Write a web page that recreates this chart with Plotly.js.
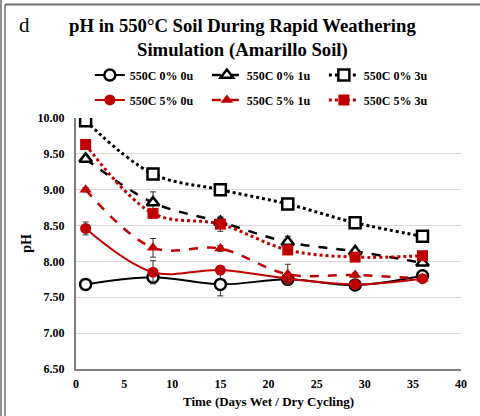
<!DOCTYPE html>
<html><head><meta charset="utf-8">
<script src="https://cdn.plot.ly/plotly-3.0.1.min.js"></script>
<style>html,body{margin:0;padding:0;background:#fff}#chart{width:480px;height:416px}</style>
</head><body><div id="chart"></div>
<script>
const days = [1, 8, 15, 22, 29, 36];
const s0_0u = [7.68, 7.78, 7.68, 7.75, 7.67, 7.80];
const e0_0u = [0.03, 0.09, 0.16, 0.04, 0.03, 0.04];
const s0_1u = [9.43, 8.82, 8.55, 8.27, 8.14, 7.98];
const e0_1u = [0.03, 0.15, 0.06, 0.08, 0.03, 0.04];
const s0_3u = [9.96, 9.22, 9.00, 8.80, 8.54, 8.35];
const e0_3u = [0.03, 0.05, 0.04, 0.06, 0.05, 0.04];
const s5_0u = [8.46, 7.85, 7.88, 7.76, 7.68, 7.76];
const e5_0u = [0.09, 0.16, 0.06, 0.03, 0.03, 0.03];
const s5_1u = [9.00, 8.19, 8.18, 7.82, 7.81, 7.76];
const e5_1u = [0.03, 0.13, 0.04, 0.14, 0.03, 0.03];
const s5_3u = [9.63, 8.67, 8.52, 8.16, 8.06, 8.08];
const e5_3u = [0.03, 0.05, 0.10, 0.04, 0.04, 0.04];
const names = ['550C 0% 0u','550C 0% 1u','550C 0% 3u','550C 5% 0u','550C 5% 1u','550C 5% 3u'];
const yTicks = [6.5, 7.0, 7.5, 8.0, 8.5, 9.0, 9.5, 10.0];
const yTickText = ['6.50','7.00','7.50','8.00','8.50','9.00','9.50','10.00'];

const RED = '#C00000', BLK = '#000000';
const serif = 'Liberation Serif, Times New Roman, serif';
function tr(y, e, name, color, dash, width, symbol, fill, legend) {
  return {
    x: days, y: y, name: name, type: 'scatter', mode: 'lines+markers',
    line: {color: color, dash: dash, width: width, shape: 'spline', smoothing: 1},
    marker: {symbol: symbol, size: 11, color: fill, line: {color: color, width: fill === '#ffffff' ? 2.5 : 0}},
    error_y: {type: 'data', array: e, visible: true, color: '#333333', thickness: 1, width: 3},
    legend: legend
  };
}
const data = [
  tr(s0_0u, e0_0u, names[0], BLK, 'solid', 2, 'circle', '#ffffff', 'legend'),
  tr(s0_1u, e0_1u, names[1], BLK, 'dash', 2.5, 'triangle-up', '#ffffff', 'legend'),
  tr(s0_3u, e0_3u, names[2], BLK, 'dot', 3, 'square', '#ffffff', 'legend'),
  tr(s5_0u, e5_0u, names[3], RED, 'solid', 2, 'circle', RED, 'legend2'),
  tr(s5_1u, e5_1u, names[4], RED, 'dash', 2.5, 'triangle-up', RED, 'legend2'),
  tr(s5_3u, e5_3u, names[5], RED, 'dot', 3, 'square', RED, 'legend2')
];
const legCommon = {orientation: 'h', entrywidth: 72, entrywidthmode: 'pixels', xanchor: 'left', yanchor: 'middle',
  font: {family: serif, size: 12, color: '#000', weight: 'bold'}, bgcolor: 'rgba(0,0,0,0)', traceorder: 'normal'};
const layout = {
  width: 480, height: 416,
  margin: {l: 76, r: 19, t: 118, b: 47},
  paper_bgcolor: '#ffffff', plot_bgcolor: '#ffffff',
  font: {family: serif, color: '#000'},
  title: {text: '<b>pH in 550°C Soil During Rapid Weathering<br>Simulation (Amarillo Soil)</b>',
    font: {family: serif, size: 18.7, color: '#000'}, x: 0.505, xref: 'container', xanchor: 'center', yref: 'container', y: 0.924, yanchor: 'middle'},
  showlegend: true,
  legend: Object.assign({x: 0.036, y: 1.171}, legCommon),
  legend2: Object.assign({x: 0.036, y: 1.072}, legCommon),
  xaxis: {range: [0, 40], dtick: 5, tick0: 0, showgrid: false, zeroline: false,
    showline: true, linecolor: '#7f7f7f', linewidth: 2, ticks: '', ticklabelstandoff: 3,
    tickfont: {family: serif, size: 12, color: '#000', weight: 'bold'},
    title: {text: '<b>Time (Days Wet / Dry Cycling)</b>', font: {family: serif, size: 13, color: '#000'}, standoff: 6}},
  yaxis: {range: [6.5, 10.0], tickvals: yTicks, ticktext: yTickText, showgrid: true, gridcolor: '#d9d9d9', gridwidth: 1,
    zeroline: false, showline: true, linecolor: '#7f7f7f', linewidth: 2, ticks: '', ticklabelstandoff: 7,
    tickfont: {family: serif, size: 12, color: '#000', weight: 'bold'},
    title: {text: '<b>pH</b>', font: {family: serif, size: 14, color: '#000'}, standoff: 3}},
  annotations: [{text: 'd', xref: 'paper', yref: 'paper', x: -0.133, y: 1.369, xanchor: 'center', yanchor: 'middle',
    showarrow: false, font: {family: serif, size: 21, color: '#000'}}],
  shapes: [
    {type: 'line', xref: 'paper', yref: 'paper', x0: -0.1844, x1: 1.06, y0: 1.4522, y1: 1.4522, line: {color: '#6e6e6e', width: 2}},
    {type: 'line', xref: 'paper', yref: 'paper', x0: -0.1948, x1: -0.1948, y0: 1.47, y1: -0.2, line: {color: '#6e6e6e', width: 1.5}},
    {type: 'line', xref: 'paper', yref: 'paper', x0: -0.1844, x1: -0.1844, y0: 1.4522, y1: -0.2, line: {color: '#6e6e6e', width: 1.5}}
  ]
};
Plotly.newPlot('chart', data, layout, {displayModeBar: false, staticPlot: true});
</script></body></html>
